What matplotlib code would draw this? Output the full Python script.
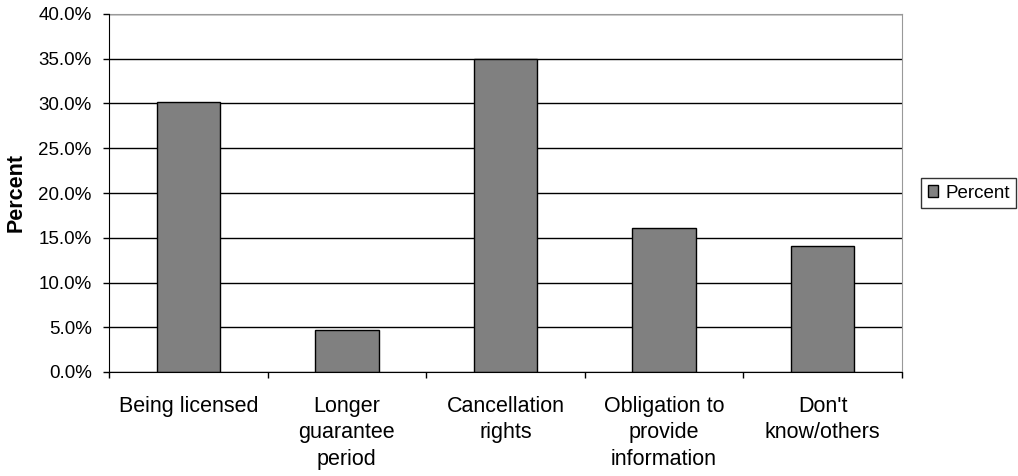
import matplotlib
matplotlib.use("Agg")
import matplotlib.pyplot as plt
from matplotlib.ticker import FuncFormatter, FixedLocator

categories = ["Being licensed", "Longer\nguarantee\nperiod", "Cancellation\nrights",
              "Obligation to\nprovide\ninformation", "Don't\nknow/others"]
percent = [30.2, 4.7, 35.0, 16.1, 14.1]
yticks = [0, 5, 10, 15, 20, 25, 30, 35, 40]

plt.rcParams['font.family'] = ['Liberation Sans', 'DejaVu Sans']
fig = plt.figure(figsize=(10.18, 4.76), dpi=100)
ax = fig.add_axes([109 / 1018, 1 - 372 / 476, (902 - 109) / 1018, (372 - 14) / 476])

x = list(range(len(categories)))
bars = ax.bar(x, percent, width=0.4, color="#808080", edgecolor="black",
              linewidth=1.0, label="Percent", zorder=3)

ax.set_xlim(-0.5, len(categories) - 0.5)
ax.set_ylim(0, 40)
ax.set_yticks(yticks)
ax.yaxis.set_major_formatter(FuncFormatter(lambda v, p: f"{v:.1f}%"))
ax.yaxis.grid(True, color="black", linewidth=1.0, zorder=0)
ax.set_axisbelow(True)

# Category labels sit between tick marks placed at the category boundaries
ax.xaxis.set_major_locator(FixedLocator([i - 0.5 for i in range(len(categories) + 1)]))
ax.xaxis.set_major_formatter(FuncFormatter(lambda v, p: ""))
ax.xaxis.set_minor_locator(FixedLocator(x))
ax.set_xticklabels(categories, minor=True, fontsize=15.5, linespacing=1.35)
ax.tick_params(axis="x", which="minor", length=0, pad=17)
ax.tick_params(axis="x", which="major", length=4.5, width=1.0, direction="out")
ax.tick_params(axis="y", length=4.5, width=1.0, direction="out", labelsize=13.5, pad=8)

for side in ("top", "right"):
    ax.spines[side].set_color("#999999")
for side in ("left", "bottom"):
    ax.spines[side].set_color("black")
ax.spines["left"].set_zorder(4)
ax.spines["bottom"].set_zorder(4)

ax.set_ylabel("Percent", fontsize=15.5, fontweight="bold", labelpad=8.5)

leg = fig.legend(handles=[bars], labels=["Percent"], loc="center left",
                 bbox_to_anchor=(921 / 1018, 1 - 193 / 476), frameon=True,
                 fancybox=False, edgecolor="black", fontsize=13.5,
                 handlelength=0.55, handleheight=0.55, handletextpad=0.4,
                 borderpad=0.35, borderaxespad=0)
leg.get_frame().set_linewidth(1.0)

fig.savefig("out.png", dpi=100)
